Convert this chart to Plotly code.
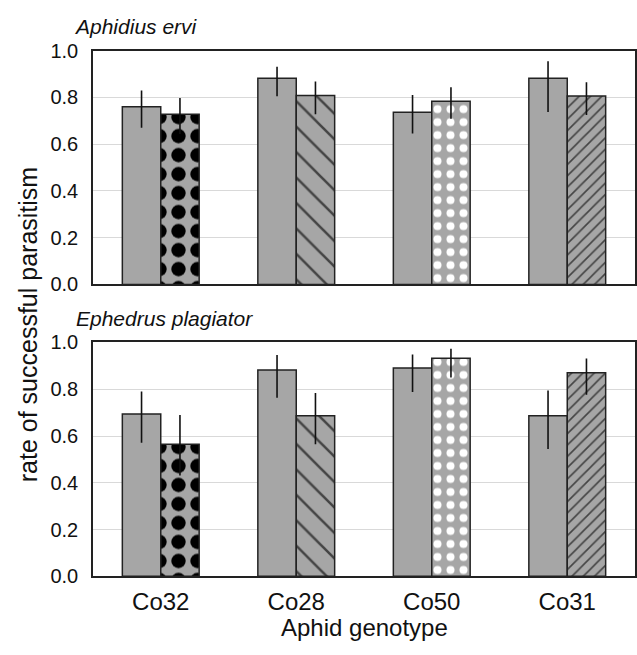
import plotly.graph_objects as go
from plotly.subplots import make_subplots

genotypes = ["Co32", "Co28", "Co50", "Co31"]

# Aphidius ervi (top panel)
ervi_first = [0.760, 0.882, 0.736, 0.882]
ervi_first_lo = [0.670, 0.805, 0.646, 0.738]
ervi_first_hi = [0.830, 0.931, 0.810, 0.955]
ervi_second = [0.728, 0.808, 0.783, 0.806]
ervi_second_lo = [0.644, 0.728, 0.709, 0.725]
ervi_second_hi = [0.797, 0.868, 0.843, 0.865]

# Ephedrus plagiator (bottom panel)
plag_first = [0.694, 0.882, 0.891, 0.687]
plag_first_lo = [0.571, 0.764, 0.788, 0.545]
plag_first_hi = [0.790, 0.946, 0.949, 0.795]
plag_second = [0.565, 0.687, 0.933, 0.871]
plag_second_lo = [0.431, 0.565, 0.850, 0.777]
plag_second_hi = [0.690, 0.784, 0.973, 0.931]

panel_titles = ["Aphidius ervi", "Ephedrus plagiator"]
y_ticks = [0.0, 0.2, 0.4, 0.6, 0.8, 1.0]

GRAY = "#a6a6a6"
EDGE = "#222222"
FONT = "Liberation Sans, Arial, sans-serif"

pat_shape = [".", "\\", ".", "/"]
pat_fg = ["#000000", "#444444", "#ffffff", "#444444"]
pat_size = [19, 18, 13, 8]
pat_sol = [0.45, 0.14, 0.3, 0.2]

W, H = 637, 655
L, R = 93, 1
PW = W - L - R


def px(x):
    return (x - L) / PW


def py(y):
    return (H - y) / H


fig = make_subplots(rows=2, cols=1)

panels = [
    (ervi_first, ervi_first_lo, ervi_first_hi, ervi_second, ervi_second_lo, ervi_second_hi),
    (plag_first, plag_first_lo, plag_first_hi, plag_second, plag_second_lo, plag_second_hi),
]

for r, (v1, l1, h1, v2, l2, h2) in enumerate(panels, start=1):
    fig.add_trace(go.Bar(
        x=genotypes, y=v1, offsetgroup="a",
        marker=dict(color=GRAY, line=dict(color=EDGE, width=1.5)),
        error_y=dict(type="data", symmetric=False,
                     array=[h - v for h, v in zip(h1, v1)],
                     arrayminus=[v - l for v, l in zip(v1, l1)],
                     color="#111111", thickness=1.6, width=0),
        showlegend=False), row=r, col=1)
    fig.add_trace(go.Bar(
        x=genotypes, y=v2, offsetgroup="b",
        marker=dict(color=GRAY, line=dict(color=EDGE, width=1.5),
                    pattern=dict(shape=pat_shape, fgcolor=pat_fg, bgcolor=GRAY,
                                 size=pat_size, solidity=pat_sol, fillmode="replace")),
        error_y=dict(type="data", symmetric=False,
                     array=[h - v for h, v in zip(h2, v2)],
                     arrayminus=[v - l for v, l in zip(v2, l2)],
                     color="#111111", thickness=1.6, width=0),
        showlegend=False), row=r, col=1)

axis_common = dict(showline=True, linecolor=EDGE, linewidth=1.5, mirror=True)
yaxis_common = dict(range=[0, 1], tickvals=y_ticks, tickformat=".1f",
                    showgrid=True, gridcolor="#d9d9d9", gridwidth=1, ticks="",
                    ticklabelstandoff=9, tickfont=dict(size=20), zeroline=False,
                    **axis_common)

fig.update_layout(
    width=W, height=H,
    margin=dict(l=L, r=R, t=0, b=0),
    plot_bgcolor="white", paper_bgcolor="white",
    barmode="group", bargap=0.433, bargroupgap=0,
    font=dict(family=FONT, color="#111111"),
    xaxis=dict(domain=[0, 1], anchor="y", showticklabels=False, ticks="", **axis_common),
    xaxis2=dict(domain=[0, 1], anchor="y2", ticks="", tickfont=dict(size=24),
                ticklabelstandoff=3, **axis_common),
    yaxis=dict(domain=[py(283), py(41)], **yaxis_common),
    yaxis2=dict(domain=[py(585), py(343)], **yaxis_common),
)

fig.add_annotation(text="<i>" + panel_titles[0] + "</i>", xref="paper", yref="paper",
                   x=px(72), y=py(16), xanchor="left", yanchor="middle",
                   showarrow=False, font=dict(size=21, family=FONT))
fig.add_annotation(text="<i>" + panel_titles[1] + "</i>", xref="paper", yref="paper",
                   x=px(74), y=py(318), xanchor="left", yanchor="middle",
                   showarrow=False, font=dict(size=21, family=FONT))
fig.add_annotation(text="Aphid genotype", xref="paper", yref="paper",
                   x=0.5, y=py(638), xanchor="center", yanchor="middle",
                   showarrow=False, font=dict(size=24, family=FONT))
fig.add_annotation(text="rate of successful parasitism", xref="paper", yref="paper",
                   x=px(28), y=py(325), xanchor="center", yanchor="middle", textangle=-90,
                   showarrow=False, font=dict(size=25, family=FONT))

# remove the default page margin so the figure sits at the window's top-left corner
fig.write_html("out.html",
               config={"displayModeBar": False},
               post_script="document.body.style.margin='0';document.body.style.overflow='hidden';")
